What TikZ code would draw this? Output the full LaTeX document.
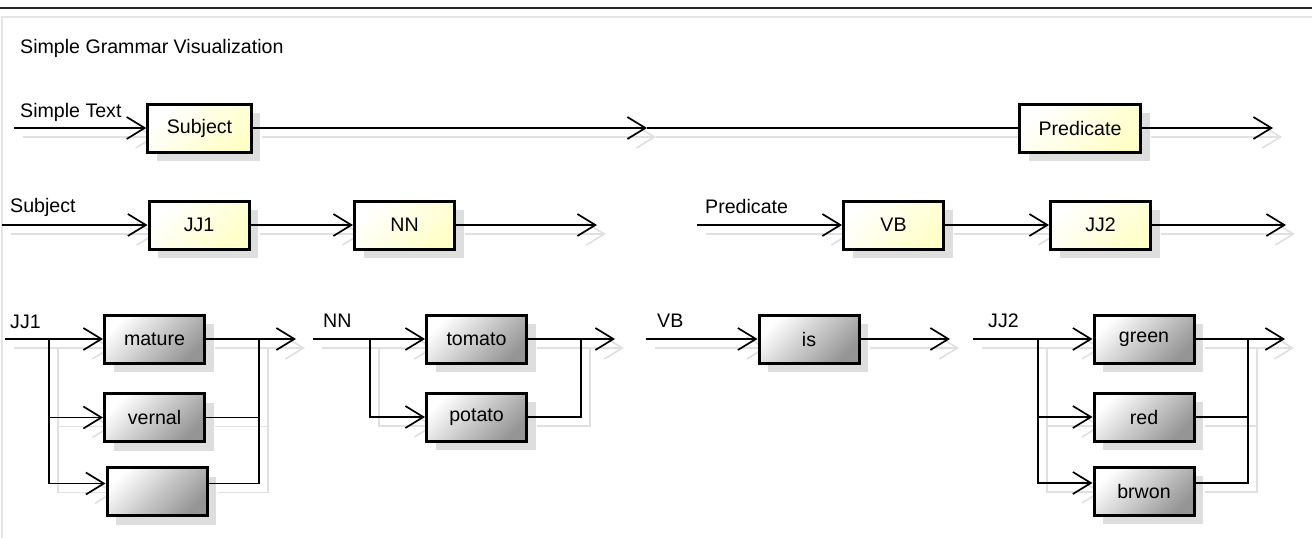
\documentclass[tikz,border=0pt]{standalone}
\usepackage{fontspec}
\setmainfont{Liberation Sans}
\usetikzlibrary{arrows.meta,shadows}
\pgfdeclarelayer{background}
\pgfsetlayers{background,main}
\definecolor{ruleyellow}{HTML}{FFFFC8}
\definecolor{rulegray}{HTML}{959595}

% all connectors, drawn twice (shadow + line)
\newcommand{\grammarwires}{%
\draw[->] (st) -- (Subject);
\draw[->] (Subject) -- (mid);
\draw (mid) -- (Predicate);
\draw[->] (Predicate) -- (pe);
\draw[->] (sj) -- (JJ1);
\draw[->] (JJ1) -- (NN);
\draw[->] (NN) -- (sje);
\draw[->] (pd) -- (VB);
\draw[->] (VB) -- (JJ2);
\draw[->] (JJ2) -- (pde);
% JJ1 choice
\draw[->] (a0) -- (mature);
\draw[->] (a1) |- (vernal);
\draw[->] (a1) |- ([yshift=8pt]empty.west);
\draw[->] (mature) -- (a3);
\draw (vernal) -| (a2);
\draw ([yshift=8pt]empty.east) -| (a2);
% NN choice
\draw[->] (b0) -- (tomato);
\draw[->] (b1) |- (potato);
\draw[->] (tomato) -- (b3);
\draw (potato) -| (b2);
% VB
\draw[->] (c0) -- (is);
\draw[->] (is) -- (c1);
% JJ2 choice
\draw[->] (d0) -- (green);
\draw[->] (d1) |- (red);
\draw[->] (d1) |- ([yshift=8pt]brwon.west);
\draw[->] (green) -- (d3);
\draw (red) -| (d2);
\draw ([yshift=8pt]brwon.east) -| (d2);
}

\begin{document}
\begin{tikzpicture}[x=1pt,y=-1pt,font=\fontsize{19.6}{23}\selectfont,
  >={Straight Barb[length=18pt,width=22pt]},
  wire/.style={line width=1.7pt},
  lbl/.style={anchor=base west,inner sep=0pt},
  rulebox/.style={draw,line width=3pt,minimum width=100pt,minimum height=48pt,
    inner xsep=19pt,drop shadow={shadow xshift=9pt,shadow yshift=-9pt,fill=black!13,opacity=1}},
  nonterm/.style={rulebox,top color=white,bottom color=ruleyellow,shading angle=45},
  term/.style={rulebox,top color=white,bottom color=rulegray,shading angle=45}]
\useasboundingbox (0,0) rectangle (1312,538);
\draw[line width=2pt,black!85] (0,8) -- (1312,8);
\draw[line width=1.5pt,black!10] (1312,17) -- (2,17) -- (2,538);
\node[lbl] (title) at (20,53) {Simple Grammar Visualization};

% row 1
\node[lbl] (lst) at (20,117) {Simple Text};
\node[nonterm] (Subject) at (199.5,128) {Subject};
\node[nonterm,minimum width=121pt] (Predicate) at (1080,128) {Predicate};
\coordinate (st) at (14,128);
\coordinate (mid) at (647,128);
\coordinate (pe) at (1273,128);

% row 2
\node[lbl] (lsj) at (10,212) {Subject};
\node[nonterm] (JJ1) at (199,225) {JJ1};
\node[nonterm] (NN) at (404.5,225) {NN};
\node[lbl] (lpd) at (705,213) {Predicate};
\node[nonterm] (VB) at (893.5,225) {VB};
\node[nonterm] (JJ2) at (1100.5,225) {JJ2};
\coordinate (sj) at (2,225);
\coordinate (sje) at (597,225);
\coordinate (pd) at (697,225);
\coordinate (pde) at (1286,225);

% row 3
\node[lbl] (ljj1) at (10,328) {JJ1};
\node[term] (mature) at (154.5,339) {mature};
\node[term] (vernal) at (154.5,417.5) {vernal};
\node[term] (empty) at (157,491.5) {};
\coordinate (a0) at (5,339);
\coordinate (a1) at (49,339);
\coordinate (a2) at (259,339);
\coordinate (a3) at (296,339);

\node[lbl] (lnn) at (323,327) {NN};
\node[term] (tomato) at (476.5,339) {tomato};
\node[term] (potato) at (476.5,417) {potato};
\coordinate (b0) at (313,339);
\coordinate (b1) at (370,339);
\coordinate (b2) at (581,339);
\coordinate (b3) at (615,339);

\node[lbl] (lvb) at (657,327) {VB};
\node[term] (is) at (809,339) {is};
\coordinate (c0) at (646,339);
\coordinate (c1) at (950,339);

\node[lbl] (ljj2) at (988,327) {JJ2};
\node[term] (green) at (1144,339) {green};
\node[term] (red) at (1144,417) {red};
\node[term] (brwon) at (1144,491) {brwon};
\coordinate (d0) at (973,339);
\coordinate (d1) at (1038,339);
\coordinate (d2) at (1248,339);
\coordinate (d3) at (1285,339);

\begin{pgfonlayer}{background}
\begin{scope}[wire,black!12,transform canvas={shift={(9pt,-9pt)}}]
\grammarwires
\end{scope}
\end{pgfonlayer}
\begin{scope}[wire]
\grammarwires
\end{scope}
\end{tikzpicture}
\end{document}
